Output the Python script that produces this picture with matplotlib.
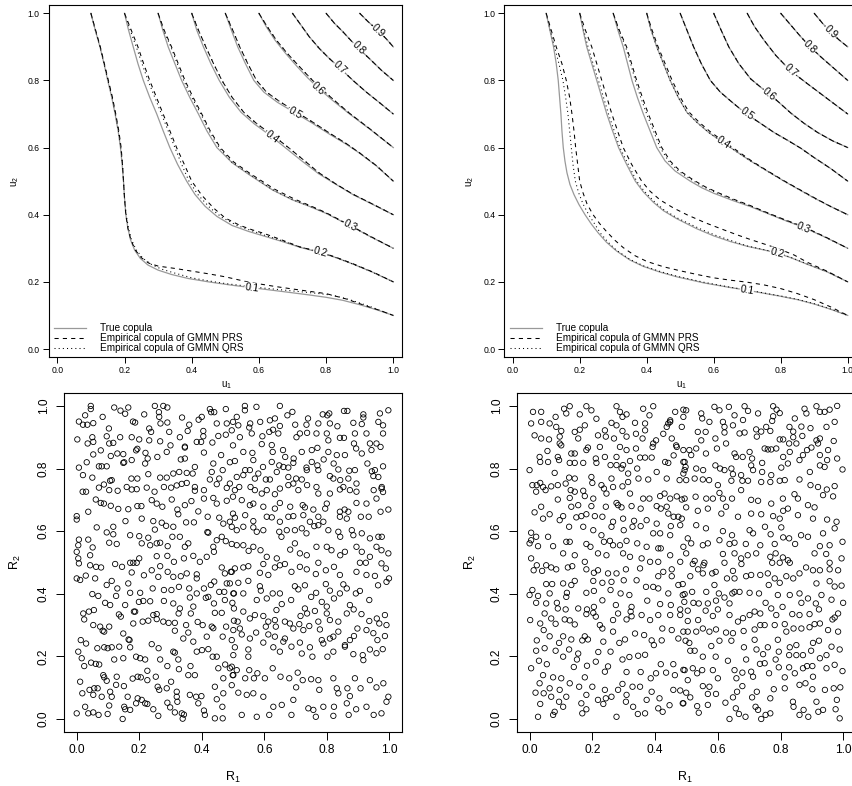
import numpy as np
import matplotlib
matplotlib.use('Agg')
import matplotlib.pyplot as plt

plt.rcParams['font.family'] = ['Liberation Sans', 'DejaVu Sans']
plt.rcParams['mathtext.fontset'] = 'custom'
plt.rcParams['mathtext.rm'] = 'Liberation Sans'
plt.rcParams['mathtext.it'] = 'Liberation Sans'

levels = [0.1, 0.2, 0.3, 0.4, 0.5, 0.6, 0.7, 0.8, 0.9]
legend_labels = ['True copula', 'Empirical copula of GMMN PRS', 'Empirical copula of GMMN QRS']

# contour lines, one list of (u1, u2) per level
left_true = [
    [(0.100,1.0),(0.113,0.95),(0.127,0.9),(0.139,0.85),(0.15,0.8),(0.162,0.75),(0.172,0.7),(0.181,0.65),(0.188,0.6),
     (0.193,0.55),(0.197,0.5),(0.2,0.45),(0.204,0.4),(0.21,0.36),(0.218,0.325),(0.23,0.295),(0.247,0.27),(0.27,0.25),
     (0.3,0.235),(0.34,0.222),(0.39,0.21),(0.45,0.2),(0.52,0.19),(0.6,0.18),(0.68,0.17),(0.75,0.161),(0.8,0.154),
     (0.85,0.145),(0.9,0.132),(0.95,0.117),(1.0,0.1)],
    [(0.2,1.0),(0.212,0.95),(0.226,0.9),(0.24,0.85),(0.256,0.8),(0.275,0.75),(0.296,0.7),(0.315,0.65),(0.335,0.6),
     (0.358,0.55),(0.385,0.5),(0.41,0.46),(0.44,0.425),(0.475,0.395),(0.52,0.368),(0.57,0.35),(0.62,0.335),(0.67,0.32),
     (0.722,0.303),(0.78,0.288),(0.83,0.272),(0.88,0.253),(0.94,0.228),(1.0,0.2)],
    [(0.3,1.0),(0.314,0.95),(0.33,0.9),(0.35,0.85),(0.37,0.8),(0.394,0.75),(0.42,0.7),(0.445,0.65),(0.475,0.6),
     (0.52,0.555),(0.57,0.52),(0.64,0.474),(0.70,0.444),(0.75,0.425),(0.80,0.404),(0.87,0.368),(0.935,0.333),(1.0,0.3)],
    [(0.4,1.0),(0.415,0.95),(0.435,0.9),(0.457,0.85),(0.482,0.8),(0.512,0.75),(0.547,0.705),(0.587,0.67),(0.635,0.635),
     (0.682,0.597),(0.728,0.56),(0.778,0.522),(0.83,0.49),(0.88,0.46),(0.94,0.43),(1.0,0.4)],
    [(0.5,1.0),(0.518,0.95),(0.537,0.9),(0.56,0.85),(0.585,0.8),(0.615,0.765),(0.655,0.735),(0.705,0.705),(0.76,0.672),
     (0.81,0.64),(0.86,0.61),(0.9,0.583),(0.95,0.545),(1.0,0.5)],
    [(0.6,1.0),(0.622,0.96),(0.648,0.92),(0.68,0.88),(0.715,0.84),(0.745,0.808),(0.777,0.777),(0.82,0.74),(0.87,0.7),
     (0.93,0.655),(1.0,0.6)],
    [(0.7,1.0),(0.725,0.965),(0.75,0.93),(0.78,0.895),(0.81,0.865),(0.841,0.837),(0.88,0.8),(0.92,0.765),(0.96,0.733),
     (1.0,0.7)],
    [(0.8,1.0),(0.825,0.97),(0.85,0.945),(0.873,0.92),(0.896,0.896),(0.93,0.864),(0.965,0.83),(1.0,0.8)],
    [(0.9,1.0),(0.925,0.975),(0.955,0.948),(0.978,0.925),(1.0,0.9)],
]
left_prs = [
    [(0.1,1.0),(0.114,0.95),(0.128,0.9),(0.14,0.85),(0.152,0.8),(0.164,0.75),(0.174,0.7),(0.183,0.65),(0.19,0.6),
     (0.194,0.55),(0.197,0.5),(0.2,0.45),(0.204,0.4),(0.21,0.36),(0.219,0.325),(0.232,0.295),(0.25,0.272),(0.272,0.256),
     (0.3,0.247),(0.35,0.24),(0.40,0.232),(0.45,0.224),(0.50,0.215),(0.57,0.199),(0.65,0.186),(0.72,0.176),(0.80,0.165),
     (0.86,0.149),(0.92,0.128),(0.96,0.115),(1.0,0.1)],
    [(0.2,1.0),(0.22,0.95),(0.24,0.9),(0.257,0.85),(0.275,0.8),(0.295,0.75),(0.315,0.7),(0.335,0.65),(0.355,0.6),
     (0.378,0.55),(0.40,0.5),(0.43,0.458),(0.465,0.42),(0.50,0.39),(0.544,0.368),(0.58,0.355),(0.613,0.345),(0.66,0.328),
     (0.722,0.304),(0.78,0.29),(0.83,0.273),(0.88,0.254),(0.94,0.229),(1.0,0.2)],
    [(0.3,1.0),(0.318,0.95),(0.34,0.9),(0.36,0.85),(0.38,0.8),(0.404,0.75),(0.43,0.7),(0.455,0.65),(0.485,0.6),
     (0.525,0.557),(0.575,0.522),(0.645,0.477),(0.705,0.447),(0.75,0.428),(0.80,0.406),(0.87,0.369),(0.935,0.334),(1.0,0.3)],
    [(0.4,1.0),(0.42,0.95),(0.442,0.9),(0.465,0.85),(0.49,0.8),(0.52,0.75),(0.555,0.705),(0.595,0.67),(0.641,0.637),
     (0.688,0.6),(0.733,0.563),(0.78,0.524),(0.83,0.491),(0.88,0.461),(0.94,0.431),(1.0,0.4)],
    [(0.5,1.0),(0.522,0.95),(0.543,0.9),(0.567,0.85),(0.593,0.8),(0.623,0.765),(0.662,0.737),(0.71,0.707),(0.763,0.674),
     (0.812,0.642),(0.86,0.612),(0.9,0.584),(0.95,0.546),(1.0,0.5)],
    [(0.6,1.0),(0.625,0.96),(0.652,0.92),(0.685,0.88),(0.72,0.842),(0.75,0.81),(0.78,0.78),(0.823,0.742),(0.87,0.702),
     (0.93,0.656),(1.0,0.6)],
] + left_true[6:]
left_qrs = [
    [(0.1,1.0),(0.113,0.95),(0.127,0.9),(0.139,0.85),(0.151,0.8),(0.163,0.75),(0.173,0.7),(0.182,0.65),(0.189,0.6),
     (0.194,0.55),(0.197,0.5),(0.2,0.45),(0.205,0.4),(0.212,0.36),(0.221,0.325),(0.235,0.295),(0.255,0.27),(0.28,0.252),
     (0.31,0.238),(0.35,0.226),(0.40,0.212),(0.45,0.203),(0.50,0.195),(0.60,0.183),(0.70,0.173),(0.78,0.165),
     (0.82,0.16),(0.87,0.147),(0.93,0.127),(1.0,0.1)],
    [(0.2,1.0),(0.217,0.95),(0.235,0.9),(0.252,0.85),(0.27,0.8),(0.29,0.75),(0.31,0.7),(0.33,0.65),(0.35,0.6),
     (0.37,0.55),(0.392,0.5),(0.42,0.458),(0.455,0.42),(0.49,0.392),(0.535,0.368),(0.58,0.352),(0.62,0.338),(0.67,0.322),
     (0.722,0.304),(0.78,0.289),(0.83,0.272),(0.88,0.253),(0.94,0.228),(1.0,0.2)],
    [(0.3,1.0),(0.316,0.95),(0.338,0.9),(0.357,0.85),(0.376,0.8),(0.4,0.75),(0.427,0.7),(0.452,0.65),(0.482,0.6),
     (0.52,0.556),(0.572,0.521),(0.64,0.475),(0.70,0.445),(0.75,0.426),(0.80,0.405),(0.87,0.368),(0.935,0.333),(1.0,0.3)],
] + left_prs[3:6] + left_true[6:]

right_true = [
    [(0.1,1.0),(0.111,0.95),(0.122,0.9),(0.13,0.85),(0.136,0.8),(0.14,0.75),(0.144,0.7),(0.147,0.65),(0.151,0.6),
     (0.156,0.56),(0.162,0.525),(0.171,0.49),(0.183,0.46),(0.198,0.43),(0.216,0.4),(0.235,0.372),(0.256,0.345),
     (0.28,0.318),(0.31,0.292),(0.35,0.265),(0.39,0.246),(0.44,0.229),(0.49,0.215),(0.57,0.197),(0.65,0.183),
     (0.70,0.175),(0.75,0.166),(0.8,0.157),(0.85,0.147),(0.9,0.134),(0.95,0.118),(1.0,0.1)],
    [(0.2,1.0),(0.21,0.95),(0.221,0.9),(0.236,0.85),(0.251,0.8),(0.266,0.75),(0.281,0.7),(0.298,0.65),(0.316,0.6),
     (0.34,0.55),(0.366,0.5),(0.39,0.468),(0.42,0.437),(0.45,0.412),(0.49,0.388),(0.55,0.358),(0.6,0.337),(0.65,0.32),
     (0.70,0.306),(0.75,0.295),(0.789,0.286),(0.83,0.272),(0.88,0.252),(0.94,0.229),(1.0,0.2)],
    [(0.3,1.0),(0.314,0.95),(0.33,0.9),(0.343,0.85),(0.356,0.8),(0.372,0.75),(0.39,0.7),(0.41,0.65),(0.43,0.6),
     (0.455,0.56),(0.485,0.53),(0.53,0.5),(0.565,0.48),(0.6,0.464),(0.655,0.443),(0.71,0.424),(0.76,0.404),(0.81,0.384),
     (0.869,0.362),(0.935,0.332),(1.0,0.3)],
    [(0.4,1.0),(0.413,0.95),(0.43,0.9),(0.45,0.85),(0.47,0.8),(0.494,0.75),(0.52,0.705),(0.55,0.675),(0.585,0.645),
     (0.625,0.617),(0.665,0.59),(0.71,0.56),(0.76,0.53),(0.81,0.5),(0.86,0.472),(0.905,0.447),(0.95,0.424),(1.0,0.4)],
    [(0.5,1.0),(0.52,0.95),(0.54,0.9),(0.563,0.85),(0.59,0.8),(0.62,0.765),(0.655,0.735),(0.695,0.702),(0.74,0.672),
     (0.78,0.645),(0.82,0.622),(0.86,0.598),(0.9,0.57),(0.95,0.537),(1.0,0.5)],
    [(0.6,1.0),(0.622,0.95),(0.645,0.9),(0.675,0.85),(0.71,0.805),(0.74,0.78),(0.766,0.76),(0.8,0.73),(0.83,0.703),
     (0.87,0.672),(0.91,0.645),(0.955,0.62),(1.0,0.6)],
    [(0.7,1.0),(0.722,0.96),(0.75,0.92),(0.785,0.875),(0.829,0.829),(0.88,0.79),(0.94,0.745),(1.0,0.7)],
    [(0.8,1.0),(0.83,0.965),(0.86,0.93),(0.888,0.9),(0.92,0.87),(0.96,0.835),(1.0,0.8)],
    [(0.9,1.0),(0.925,0.97),(0.948,0.945),(0.975,0.92),(1.0,0.9)],
]
right_prs = [
    [(0.1,1.0),(0.115,0.95),(0.13,0.9),(0.147,0.85),(0.16,0.8),(0.17,0.75),(0.177,0.7),(0.183,0.65),(0.188,0.6),
     (0.194,0.55),(0.20,0.5),(0.21,0.465),(0.222,0.432),(0.24,0.4),(0.26,0.373),(0.28,0.35),(0.305,0.324),(0.33,0.302),
     (0.365,0.278),(0.40,0.261),(0.45,0.245),(0.50,0.233),(0.55,0.222),(0.60,0.212),(0.65,0.205),(0.70,0.199),
     (0.75,0.191),(0.80,0.18),(0.85,0.165),(0.90,0.147),(0.95,0.125),(1.0,0.1)],
    [(0.2,1.0),(0.217,0.95),(0.236,0.9),(0.251,0.85),(0.266,0.8),(0.281,0.75),(0.296,0.7),(0.313,0.65),(0.33,0.6),
     (0.355,0.55),(0.385,0.5),(0.41,0.47),(0.44,0.444),(0.48,0.42),(0.52,0.4),(0.575,0.376),(0.63,0.355),(0.67,0.34),
     (0.71,0.326),(0.75,0.313),(0.79,0.3),(0.84,0.28),(0.88,0.258),(0.94,0.231),(1.0,0.2)],
    [(0.3,1.0),(0.318,0.95),(0.34,0.9),(0.355,0.85),(0.37,0.8),(0.387,0.75),(0.405,0.7),(0.425,0.65),(0.445,0.6),
     (0.47,0.56),(0.5,0.53),(0.54,0.503),(0.575,0.483),(0.61,0.467),(0.66,0.446),(0.71,0.427),(0.76,0.406),(0.81,0.386),
     (0.869,0.364),(0.935,0.333),(1.0,0.3)],
    [(0.4,1.0),(0.416,0.95),(0.434,0.9),(0.455,0.85),(0.476,0.8),(0.5,0.75),(0.526,0.706),(0.556,0.676),(0.59,0.647),
     (0.629,0.619),(0.668,0.592),(0.712,0.561),(0.76,0.531),(0.81,0.501),(0.86,0.473),(0.905,0.448),(0.95,0.424),(1.0,0.4)],
] + right_true[4:]
right_qrs = [
    [(0.1,1.0),(0.112,0.95),(0.125,0.9),(0.138,0.85),(0.15,0.8),(0.158,0.75),(0.165,0.7),(0.17,0.65),(0.175,0.6),
     (0.18,0.55),(0.187,0.5),(0.197,0.465),(0.21,0.432),(0.227,0.4),(0.245,0.372),(0.262,0.345),(0.285,0.318),
     (0.31,0.294),(0.35,0.267),(0.39,0.248),(0.44,0.231),(0.49,0.217),(0.57,0.199),(0.65,0.184),(0.70,0.176),
     (0.75,0.167),(0.8,0.158),(0.85,0.148),(0.9,0.135),(0.95,0.119),(1.0,0.1)],
    [(0.2,1.0),(0.212,0.95),(0.225,0.9),(0.24,0.85),(0.256,0.8),(0.271,0.75),(0.286,0.7),(0.303,0.65),(0.32,0.6),
     (0.345,0.55),(0.37,0.5),(0.393,0.47),(0.422,0.44),(0.452,0.414),(0.492,0.39),(0.555,0.36),(0.605,0.339),
     (0.655,0.322),(0.70,0.307),(0.75,0.296),(0.789,0.287),(0.83,0.273),(0.88,0.253),(0.94,0.23),(1.0,0.2)],
    [(0.3,1.0),(0.317,0.95),(0.337,0.9),(0.352,0.85),(0.366,0.8),(0.382,0.75),(0.4,0.7),(0.42,0.65),(0.44,0.6),
     (0.465,0.56),(0.495,0.53),(0.537,0.502),(0.572,0.482),(0.607,0.466),(0.658,0.445),(0.71,0.426),(0.76,0.405),
     (0.81,0.385),(0.869,0.363),(0.935,0.332),(1.0,0.3)],
] + right_true[3:]

# u1 position of the level labels
left_label_u = [0.578, 0.782, 0.871, 0.638, 0.707, 0.777, 0.841, 0.896, 0.955]
right_label_u = [0.699, 0.789, 0.869, 0.629, 0.699, 0.766, 0.829, 0.888, 0.948]

# Rosenblatt transformed samples (R1, R2)
left_pts = [
    (0.045,1.0),(0.045,0.99),(0.12,0.995),(0.14,0.985),(0.165,0.995),(0.155,0.975),(0.25,1.0),(0.277,1.0),(0.29,0.995),
    (0.263,0.98),(0.426,0.99),(0.43,0.98),(0.44,0.98),(0.477,0.99),(0.027,0.97),(0.007,0.95),(0.02,0.94),(0.034,0.94),
    (0.053,0.945),(0.083,0.965),(0.18,0.95),(0.187,0.947),(0.216,0.973),(0.232,0.928),(0.264,0.965),(0.268,0.944),
    (0.29,0.947),(0.337,0.963),(0.36,0.94),(0.39,0.956),(0.40,0.965),(0.448,0.944),(0.48,0.944),
    (0.002,0.893),(0.035,0.88),(0.05,0.90),(0.053,0.885),(0.096,0.903),(0.103,0.928),(0.139,0.90),(0.104,0.88),
    (0.117,0.882),(0.176,0.90),(0.20,0.893),(0.232,0.89),(0.238,0.917),(0.267,0.887),(0.296,0.917),(0.33,0.90),
    (0.355,0.92),(0.346,0.87),(0.384,0.885),(0.398,0.885),(0.405,0.92),(0.405,0.903),(0.434,0.883),(0.453,0.904),
    (0.477,0.908),(0.053,0.845),(0.077,0.858),(0.109,0.84),(0.13,0.848),(0.149,0.846),(0.152,0.82),(0.176,0.827),
    (0.19,0.858),(0.194,0.863),(0.22,0.85),(0.227,0.832),(0.258,0.837),(0.288,0.853),(0.30,0.874),(0.333,0.829),
    (0.346,0.832),(0.346,0.867),(0.407,0.851),(0.462,0.843),(0.49,0.82),(0.007,0.803),(0.02,0.779),(0.032,0.82),
    (0.05,0.771),(0.071,0.807),(0.08,0.807),(0.096,0.807),(0.112,0.763),(0.149,0.818),(0.175,0.768),(0.194,0.768),
    (0.219,0.816),(0.229,0.782),(0.267,0.771),(0.288,0.771),(0.309,0.784),(0.328,0.789),(0.352,0.786),(0.371,0.784),
    (0.378,0.805),(0.432,0.789),(0.426,0.765),(0.456,0.768),(0.467,0.795),(0.437,0.816),(0.019,0.726),(0.03,0.726),
    (0.071,0.739),(0.087,0.749),(0.107,0.761),(0.104,0.731),(0.131,0.729),(0.16,0.741),(0.176,0.733),(0.192,0.734),
    (0.224,0.739),(0.249,0.726),(0.279,0.741),(0.302,0.739),(0.32,0.746),(0.336,0.751),(0.352,0.754),(0.378,0.741),
    (0.378,0.729),(0.407,0.731),(0.448,0.75),(0.48,0.738),(0.061,0.701),(0.077,0.69),(0.087,0.688),(0.109,0.681),
    (0.133,0.671),(0.165,0.67),(0.194,0.68),(0.207,0.68),(0.24,0.699),(0.256,0.688),(0.274,0.678),(0.304,0.701),
    (0.322,0.669),(0.346,0.683),(0.367,0.696),(0.407,0.704),(0.437,0.706),(0.448,0.688),(0.48,0.697),(0.037,0.662),
    (0.0,0.648),(0.0,0.637),(0.064,0.612),(0.096,0.596),(0.117,0.614),(0.117,0.59),(0.156,0.632),(0.208,0.64),
    (0.245,0.632),(0.25,0.605),(0.272,0.627),(0.286,0.617),(0.309,0.614),(0.325,0.654),(0.35,0.628),(0.375,0.628),
    (0.389,0.663),(0.419,0.646),(0.418,0.597),(0.421,0.595),(0.456,0.643),(0.469,0.624),(0.007,0.573),(0.005,0.555),
    (0.037,0.573),(0.051,0.548),(0.104,0.563),(0.128,0.559),(0.171,0.587),(0.20,0.584),(0.208,0.561),(0.229,0.579),
    (0.235,0.555),(0.256,0.561),(0.267,0.563),(0.291,0.552),(0.306,0.582),(0.33,0.582),(0.346,0.55),(0.357,0.561),
    (0.437,0.55),(0.448,0.571),(0.464,0.582),(0.477,0.568),(0.0,0.534),(0.005,0.513),(0.043,0.523),(0.20,0.513),
    (0.256,0.52),(0.29,0.521),(0.343,0.513),(0.373,0.521),(0.416,0.518),(0.439,0.534),
    (0.538,1.0),(0.538,0.986),(0.575,0.997),(0.65,1.0),(0.674,0.97),(0.69,0.981),(0.787,0.973),(0.802,0.97),(0.808,0.976),
    (0.855,0.984),(0.866,0.984),(0.917,0.973),(0.917,0.963),(0.97,0.976),(0.997,0.986),(0.512,0.965),(0.5,0.949),
    (0.517,0.938),(0.555,0.944),(0.587,0.949),(0.618,0.954),(0.634,0.96),(0.65,0.936),(0.628,0.924),(0.699,0.94),
    (0.74,0.96),(0.735,0.94),(0.773,0.944),(0.81,0.944),(0.834,0.935),(0.885,0.946),(0.912,0.942),(0.965,0.949),
    (0.98,0.938),(0.496,0.922),(0.522,0.90),(0.552,0.931),(0.56,0.912),(0.594,0.903),(0.616,0.917),(0.645,0.912),
    (0.703,0.90),(0.714,0.912),(0.737,0.914),(0.767,0.912),(0.80,0.912),(0.805,0.89),(0.842,0.898),(0.855,0.898),
    (0.89,0.912),(0.927,0.912),(0.98,0.912),(0.959,0.88),(0.5,0.874),(0.533,0.853),(0.562,0.85),(0.592,0.878),
    (0.624,0.875),(0.627,0.853),(0.66,0.859),(0.667,0.837),(0.694,0.832),(0.72,0.853),(0.752,0.859),(0.77,0.866),
    (0.805,0.853),(0.832,0.843),(0.858,0.843),(0.887,0.88),(0.894,0.864),(0.912,0.848),(0.938,0.88),(0.943,0.859),
    (0.972,0.869),(0.506,0.824),(0.565,0.827),(0.596,0.805),(0.624,0.821),(0.648,0.81),(0.661,0.805),(0.677,0.803),
    (0.693,0.818),(0.735,0.803),(0.752,0.821),(0.77,0.81),(0.79,0.829),(0.822,0.816),(0.837,0.797),(0.872,0.793),
    (0.89,0.795),(0.93,0.816),(0.944,0.791),(0.954,0.795),(0.98,0.807),(0.512,0.773),(0.539,0.795),(0.554,0.795),
    (0.533,0.779),(0.57,0.768),(0.581,0.784),(0.605,0.765),(0.618,0.765),(0.64,0.789),(0.677,0.773),(0.702,0.768),
    (0.72,0.765),(0.736,0.795),(0.773,0.795),(0.81,0.776),(0.821,0.768),(0.843,0.763),(0.869,0.768),(0.895,0.752),
    (0.949,0.776),(0.965,0.773),(0.975,0.736),(0.49,0.752),(0.506,0.731),(0.52,0.741),(0.556,0.741),(0.57,0.731),
    (0.592,0.72),(0.608,0.731),(0.634,0.718),(0.65,0.736),(0.677,0.747),(0.693,0.752),(0.709,0.731),(0.737,0.747),
    (0.767,0.741),(0.773,0.72),(0.81,0.72),(0.842,0.733),(0.853,0.741),(0.874,0.731),(0.895,0.726),(0.95,0.731),
    (0.976,0.741),(0.98,0.725),(0.5,0.71),(0.528,0.699),(0.554,0.683),(0.565,0.688),(0.597,0.678),(0.634,0.672),
    (0.65,0.69),(0.683,0.678),(0.723,0.683),(0.73,0.676),(0.757,0.669),(0.80,0.688),(0.795,0.672),(0.842,0.662),
    (0.857,0.669),(0.869,0.662),(0.895,0.69),(0.927,0.688),(0.959,0.704),(0.997,0.669),(0.5,0.656),(0.506,0.643),
    (0.49,0.63),(0.539,0.651),(0.565,0.632),(0.608,0.646),(0.624,0.644),(0.65,0.63),(0.677,0.646),(0.693,0.648),
    (0.725,0.651),(0.746,0.63),(0.773,0.646),(0.789,0.63),(0.842,0.646),(0.864,0.64),(0.909,0.646),(0.934,0.646),
    (0.972,0.662),(0.496,0.614),(0.512,0.603),(0.533,0.614),(0.565,0.612),(0.576,0.598),(0.597,0.603),(0.648,0.598),
    (0.655,0.582),(0.672,0.603),(0.698,0.603),(0.72,0.609),(0.735,0.593),(0.76,0.616),(0.773,0.619),(0.805,0.603),
    (0.837,0.598),(0.843,0.582),(0.88,0.603),(0.885,0.587),(0.912,0.593),(0.938,0.577),(0.965,0.582),(0.976,0.582),
    (0.496,0.559),(0.512,0.555),(0.533,0.555),(0.55,0.537),(0.565,0.55),(0.588,0.539),(0.608,0.518),(0.64,0.513),
    (0.683,0.541),(0.698,0.561),(0.714,0.529),(0.736,0.523),(0.767,0.55),(0.80,0.55),(0.815,0.539),(0.843,0.523),
    (0.858,0.534),(0.895,0.55),(0.912,0.534),(0.938,0.518),(0.959,0.55),(0.975,0.539),(0.997,0.529),
    (0.007,0.497),(0.043,0.491),(0.062,0.486),(0.078,0.484),(0.123,0.495),(0.145,0.486),(0.171,0.499),(0.181,0.499),
    (0.192,0.499),(0.215,0.459),(0.176,0.468),(0.24,0.475),(0.267,0.488),(0.261,0.454),(0.291,0.47),(0.309,0.454),
    (0.311,0.502),(0.333,0.456),(0.352,0.465),(0.384,0.462),(0.384,0.449),(0.394,0.502),(0.429,0.428),(0.44,0.439),
    (0.464,0.484),(0.474,0.465),(0.493,0.47),(0.48,0.433),(0.0,0.449),(0.011,0.444),(0.029,0.458),(0.059,0.449),
    (0.096,0.428),(0.112,0.441),(0.13,0.417),(0.165,0.433),(0.203,0.403),(0.243,0.417),(0.279,0.412),(0.303,0.412),
    (0.327,0.422),(0.36,0.417),(0.407,0.417),(0.456,0.406),(0.472,0.406),(0.501,0.401),(0.05,0.399),(0.069,0.393),
    (0.091,0.371),(0.107,0.364),(0.126,0.393),(0.155,0.364),(0.171,0.403),(0.187,0.343),(0.199,0.374),(0.213,0.377),
    (0.235,0.376),(0.245,0.332),(0.256,0.319),(0.279,0.377),(0.309,0.369),(0.326,0.337),(0.33,0.353),(0.362,0.388),
    (0.373,0.359),(0.365,0.337),(0.384,0.401),(0.413,0.387),(0.421,0.39),(0.439,0.369),(0.442,0.339),(0.464,0.339),
    (0.474,0.38),(0.498,0.371),(0.021,0.337),(0.024,0.318),(0.039,0.343),(0.055,0.348),(0.053,0.30),(0.075,0.295),
    (0.083,0.282),(0.088,0.279),(0.104,0.295),(0.135,0.334),(0.141,0.327),(0.149,0.273),(0.183,0.343),(0.166,0.254),
    (0.181,0.305),(0.211,0.311),(0.229,0.314),(0.256,0.335),(0.277,0.311),(0.294,0.307),(0.314,0.307),(0.314,0.282),
    (0.341,0.257),(0.35,0.30),(0.357,0.276),(0.373,0.247),(0.387,0.31),(0.403,0.30),(0.416,0.263),(0.432,0.295),
    (0.437,0.29),(0.467,0.263),(0.478,0.295),(0.496,0.252),(0.503,0.314),(0.013,0.252),(0.03,0.241),(0.005,0.215),
    (0.016,0.194),(0.024,0.169),(0.046,0.18),(0.061,0.176),(0.072,0.174),(0.066,0.226),(0.088,0.229),(0.099,0.226),
    (0.112,0.229),(0.12,0.19),(0.136,0.231),(0.149,0.194),(0.171,0.229),(0.169,0.252),(0.19,0.199),(0.203,0.194),
    (0.219,0.19),(0.226,0.154),(0.24,0.239),(0.262,0.226),(0.267,0.19),(0.29,0.169),(0.309,0.215),(0.314,0.212),
    (0.325,0.19),(0.327,0.159),(0.357,0.14),(0.364,0.169),(0.378,0.14),(0.384,0.215),(0.401,0.22),(0.421,0.223),
    (0.435,0.199),(0.448,0.199),(0.453,0.162),(0.469,0.13),(0.475,0.174),(0.49,0.162),(0.499,0.14),(0.085,0.14),
    (0.088,0.133),(0.096,0.122),(0.126,0.109),(0.128,0.135),(0.151,0.105),(0.163,0.071),(0.179,0.129),(0.195,0.135),
    (0.205,0.133),(0.226,0.124),(0.253,0.135),(0.259,0.103),(0.264,0.093),(0.288,0.098),(0.302,0.119),(0.32,0.087),
    (0.32,0.071),(0.322,0.055),(0.362,0.077),(0.382,0.071),(0.399,0.073),(0.407,0.027),(0.41,0.013),(0.442,0.103),
    (0.448,0.063),(0.466,0.039),(0.469,0.082),(0.496,0.108),(0.011,0.119),(0.018,0.082),(0.041,0.093),(0.053,0.077),
    (0.056,0.098),(0.067,0.098),(0.08,0.071),(0.107,0.087),(0.112,0.071),(0.104,0.043),(0.152,0.039),(0.171,0.029),
    (0.155,0.031),(0.195,0.066),(0.208,0.061),(0.219,0.05),(0.226,0.048),(0.245,0.031),(0.261,0.01),(0.29,0.052),
    (0.299,0.037),(0.314,0.021),(0.336,0.018),(0.339,0.001),(0.343,0.014),(0.389,0.05),(0.442,0.002),(0.467,0.002),
    (0.0,0.018),(0.027,0.039),(0.037,0.018),(0.053,0.021),(0.07,0.013),(0.099,0.016),(0.147,0.0),(0.19,0.05),
    (0.496,0.47),(0.506,0.481),(0.533,0.484),(0.549,0.488),(0.586,0.467),(0.597,0.495),(0.613,0.46),(0.634,0.484),
    (0.65,0.491),(0.666,0.495),(0.687,0.47),(0.714,0.486),(0.736,0.478),(0.765,0.463),(0.773,0.499),(0.797,0.475),
    (0.823,0.486),(0.842,0.46),(0.895,0.47),(0.906,0.499),(0.925,0.499),(0.927,0.46),(0.954,0.457),(0.975,0.497),
    (0.989,0.481),(0.999,0.449),(0.49,0.433),(0.503,0.401),(0.517,0.435),(0.533,0.401),(0.549,0.441),(0.576,0.38),
    (0.586,0.424),(0.589,0.41),(0.608,0.385),(0.627,0.401),(0.65,0.401),(0.656,0.367),(0.686,0.38),(0.698,0.424),
    (0.709,0.414),(0.73,0.427),(0.75,0.39),(0.766,0.403),(0.784,0.374),(0.797,0.431),(0.81,0.41),(0.823,0.385),
    (0.842,0.401),(0.853,0.43),(0.864,0.417),(0.874,0.364),(0.893,0.401),(0.906,0.409),(0.936,0.38),(0.964,0.427),
    (0.991,0.438),(0.503,0.353),(0.533,0.343),(0.515,0.311),(0.554,0.321),(0.57,0.332),(0.597,0.329),(0.613,0.311),
    (0.639,0.348),(0.634,0.316),(0.666,0.311),(0.682,0.305),(0.712,0.303),(0.716,0.329),(0.73,0.353),(0.737,0.337),
    (0.762,0.345),(0.8,0.337),(0.8,0.359),(0.81,0.316),(0.837,0.311),(0.864,0.337),(0.886,0.35),(0.898,0.289),
    (0.911,0.335),(0.936,0.313),(0.96,0.321),(0.968,0.305),(0.986,0.332),(0.991,0.30),(0.501,0.284),(0.522,0.289),
    (0.528,0.27),(0.554,0.257),(0.574,0.276),(0.605,0.295),(0.613,0.27),(0.634,0.263),(0.637,0.295),(0.661,0.247),
    (0.666,0.257),(0.693,0.289),(0.725,0.284),(0.744,0.297),(0.773,0.311),(0.778,0.286),(0.784,0.252),(0.81,0.257),
    (0.821,0.263),(0.837,0.279),(0.858,0.231),(0.874,0.252),(0.887,0.265),(0.927,0.284),(0.949,0.274),(0.986,0.265),
    (0.962,0.252),(0.506,0.229),(0.501,0.204),(0.549,0.199),(0.549,0.222),(0.597,0.244),(0.629,0.229),(0.65,0.215),
    (0.687,0.231),(0.714,0.244),(0.72,0.209),(0.746,0.229),(0.754,0.199),(0.789,0.241),(0.802,0.199),(0.821,0.215),
    (0.858,0.236),(0.885,0.207),(0.915,0.204),(0.917,0.188),(0.938,0.222),(0.959,0.21),(0.979,0.223),(0.496,0.167),
    (0.512,0.156),(0.501,0.14),(0.539,0.13),(0.552,0.156),(0.567,0.13),(0.578,0.146),(0.602,0.13),(0.627,0.162),
    (0.652,0.135),(0.68,0.13),(0.707,0.148),(0.702,0.101),(0.723,0.124),(0.75,0.127),(0.773,0.124),(0.776,0.093),
    (0.821,0.13),(0.832,0.098),(0.837,0.082),(0.866,0.098),(0.874,0.073),(0.89,0.13),(0.908,0.098),(0.938,0.124),
    (0.959,0.101),(0.981,0.114),(0.997,0.071),(0.517,0.084),(0.544,0.077),(0.565,0.082),(0.597,0.071),(0.629,0.039),
    (0.656,0.045),(0.693,0.061),(0.741,0.034),(0.757,0.029),(0.765,0.007),(0.789,0.039),(0.823,0.039),(0.821,0.01),
    (0.864,0.05),(0.87,0.013),(0.894,0.031),(0.927,0.039),(0.95,0.013),(0.975,0.018),(0.991,0.055),(0.528,0.013),
    (0.576,0.007),(0.616,0.013),(0.687,0.013),
]
right_pts = [
    (0.011,0.981),(0.037,0.981),(0.005,0.944),(0.037,0.949),(0.064,0.944),(0.083,0.965),(0.11,0.991),(0.117,0.976),
    (0.128,0.999),(0.16,0.973),(0.181,0.999),(0.197,0.986),(0.213,0.959),(0.277,0.999),(0.288,0.981),(0.296,0.965),
    (0.309,0.973),(0.362,0.991),(0.394,0.999),(0.382,0.97),(0.448,0.949),(0.464,0.981),(0.49,0.988),(0.49,0.965),
    (0.085,0.933),(0.101,0.92),(0.016,0.906),(0.037,0.896),(0.062,0.893),(0.096,0.902),(0.096,0.88),(0.144,0.917),
    (0.16,0.924),(0.155,0.896),(0.176,0.938),(0.218,0.906),(0.24,0.922),(0.243,0.902),(0.269,0.896),(0.261,0.946),
    (0.277,0.938),(0.296,0.92),(0.309,0.902),(0.336,0.946),(0.339,0.911),(0.36,0.896),(0.368,0.944),(0.368,0.922),
    (0.394,0.88),(0.403,0.89),(0.426,0.911),(0.437,0.933),(0.442,0.944),(0.448,0.954),(0.453,0.896),(0.467,0.874),
    (0.485,0.933),(0.49,0.859),(0.101,0.874),(0.057,0.856),(0.032,0.837),(0.034,0.821),(0.059,0.821),(0.09,0.837),
    (0.094,0.827),(0.133,0.848),(0.144,0.848),(0.128,0.818),(0.144,0.818),(0.171,0.818),(0.181,0.859),(0.186,0.867),
    (0.211,0.832),(0.213,0.818),(0.224,0.869),(0.24,0.837),(0.258,0.811),(0.277,0.811),(0.277,0.837),(0.288,0.869),
    (0.298,0.811),(0.309,0.859),(0.32,0.824),(0.339,0.864),(0.352,0.835),(0.368,0.835),(0.389,0.835),(0.392,0.869),
    (0.432,0.821),(0.442,0.818),(0.459,0.842),(0.469,0.869),(0.49,0.821),(0.0,0.795),(0.08,0.786),(0.126,0.771),
    (0.144,0.768),(0.197,0.773),(0.2,0.754),(0.229,0.747),(0.261,0.768),(0.266,0.741),(0.293,0.80),(0.314,0.784),
    (0.314,0.757),(0.343,0.80),(0.347,0.768),(0.378,0.765),(0.405,0.789),(0.437,0.768),(0.478,0.763),(0.49,0.784),
    (0.009,0.747),(0.023,0.747),(0.034,0.754),(0.043,0.741),(0.021,0.726),(0.051,0.731),(0.069,0.743),(0.09,0.747),
    (0.115,0.752),(0.131,0.731),(0.144,0.726),(0.171,0.729),(0.176,0.712),(0.203,0.704),(0.237,0.736),(0.245,0.72),
    (0.296,0.743),(0.32,0.72),(0.362,0.704),(0.382,0.704),(0.416,0.712),(0.43,0.72),(0.448,0.704),(0.469,0.711),
    (0.485,0.701),(0.09,0.701),(0.128,0.706),(0.133,0.678),(0.155,0.683),(0.197,0.68),(0.243,0.678),(0.277,0.69),
    (0.282,0.683),(0.293,0.676),(0.325,0.68),(0.354,0.672),(0.405,0.68),(0.418,0.672),(0.437,0.678),(0.037,0.678),
    (0.016,0.66),(0.043,0.64),(0.064,0.654),(0.096,0.635),(0.107,0.648),(0.126,0.614),(0.149,0.644),(0.165,0.648),
    (0.181,0.654),(0.208,0.648),(0.232,0.646),(0.261,0.614),(0.266,0.63),(0.298,0.64),(0.333,0.633),(0.328,0.614),
    (0.354,0.616),(0.373,0.635),(0.405,0.624),(0.442,0.656),(0.459,0.646),(0.474,0.646),(0.485,0.64),(0.45,0.616),
    (0.48,0.619),(0.171,0.614),(0.005,0.595),(0.005,0.571),(0.021,0.582),(0.0,0.561),(0.027,0.552),(0.059,0.582),
    (0.075,0.552),(0.117,0.566),(0.128,0.566),(0.181,0.559),(0.194,0.55),(0.203,0.603),(0.229,0.587),(0.237,0.566),
    (0.256,0.569),(0.266,0.555),(0.288,0.555),(0.3,0.603),(0.309,0.569),(0.343,0.561),(0.373,0.55),(0.394,0.593),
    (0.416,0.593),(0.41,0.545),(0.418,0.545),(0.448,0.587),(0.49,0.55),(0.005,0.513),(0.107,0.529),(0.144,0.523),
    (0.218,0.529),(0.245,0.523),(0.298,0.529),(0.32,0.518),(0.357,0.513),(0.448,0.523),
    (0.589,0.997),(0.605,0.986),(0.635,0.997),(0.653,0.97),(0.685,0.999),(0.696,0.984),(0.68,0.955),(0.728,0.976),
    (0.776,0.999),(0.787,0.988),(0.797,0.977),(0.776,0.967),(0.773,0.952),(0.845,0.96),(0.876,0.991),(0.882,0.976),
    (0.914,0.999),(0.925,0.981),(0.94,0.981),(0.956,0.988),(0.98,1.0),(0.972,0.949),(0.499,0.986),(0.547,0.976),
    (0.55,0.96),(0.573,0.949),(0.616,0.949),(0.621,0.933),(0.648,0.938),(0.722,0.925),(0.738,0.918),(0.754,0.933),
    (0.767,0.92),(0.828,0.933),(0.84,0.918),(0.866,0.934),(0.895,0.929),(0.946,0.933),(0.536,0.917),(0.561,0.917),
    (0.547,0.89),(0.592,0.896),(0.621,0.915),(0.669,0.912),(0.685,0.915),(0.724,0.902),(0.797,0.893),(0.808,0.893),
    (0.84,0.90),(0.869,0.904),(0.914,0.89),(0.925,0.896),(0.969,0.888),(0.509,0.859),(0.515,0.843),(0.531,0.864),
    (0.562,0.848),(0.597,0.864),(0.626,0.88),(0.653,0.848),(0.658,0.837),(0.679,0.837),(0.701,0.853),(0.709,0.832),
    (0.749,0.864),(0.759,0.861),(0.77,0.861),(0.786,0.864),(0.808,0.837),(0.829,0.853),(0.827,0.88),(0.85,0.88),
    (0.871,0.843),(0.884,0.859),(0.898,0.867),(0.919,0.88),(0.925,0.843),(0.951,0.859),(0.98,0.832),(0.948,0.827),
    (0.494,0.821),(0.497,0.805),(0.494,0.795),(0.531,0.80),(0.553,0.795),(0.592,0.81),(0.607,0.80),(0.621,0.795),
    (0.643,0.80),(0.648,0.782),(0.674,0.779),(0.706,0.81),(0.712,0.795),(0.741,0.818),(0.741,0.789),(0.77,0.779),
    (0.802,0.803),(0.823,0.816),(0.86,0.827),(0.893,0.789),(0.925,0.81),(0.94,0.805),(0.997,0.797),(0.499,0.763),
    (0.526,0.768),(0.552,0.765),(0.572,0.763),(0.6,0.747),(0.643,0.761),(0.678,0.761),(0.696,0.761),(0.738,0.757),
    (0.767,0.757),(0.797,0.761),(0.813,0.763),(0.86,0.765),(0.895,0.747),(0.919,0.741),(0.947,0.733),(0.972,0.744),
    (0.494,0.704),(0.529,0.71),(0.563,0.704),(0.584,0.704),(0.605,0.722),(0.616,0.704),(0.645,0.704),(0.674,0.731),
    (0.706,0.70),(0.728,0.697),(0.77,0.688),(0.807,0.704),(0.844,0.718),(0.855,0.704),(0.887,0.683),(0.908,0.676),
    (0.935,0.715),(0.967,0.711),(0.499,0.676),(0.536,0.665),(0.568,0.672),(0.611,0.656),(0.626,0.678),(0.664,0.646),
    (0.706,0.656),(0.738,0.654),(0.776,0.648),(0.797,0.64),(0.808,0.665),(0.823,0.672),(0.855,0.651),(0.903,0.64),
    (0.948,0.637),(0.978,0.63),(0.531,0.619),(0.562,0.609),(0.605,0.571),(0.616,0.60),(0.645,0.587),(0.653,0.563),
    (0.701,0.603),(0.712,0.593),(0.75,0.614),(0.768,0.59),(0.802,0.612),(0.808,0.58),(0.827,0.577),(0.865,0.587),
    (0.887,0.582),(0.935,0.593),(0.972,0.609),(0.504,0.577),(0.515,0.561),(0.552,0.555),(0.568,0.561),(0.637,0.559),
    (0.689,0.559),(0.735,0.555),(0.781,0.559),(0.846,0.559),(0.925,0.552),(0.956,0.555),(0.997,0.566),(0.499,0.529),
    (0.526,0.505),(0.557,0.499),(0.616,0.527),(0.653,0.529),(0.674,0.513),(0.695,0.523),(0.722,0.529),(0.767,0.518),
    (0.784,0.529),(0.807,0.516),(0.823,0.507),(0.908,0.529),(0.945,0.527),(0.994,0.513),
    (0.023,0.491),(0.053,0.491),(0.069,0.484),(0.085,0.478),(0.122,0.484),(0.136,0.488),(0.013,0.475),(0.04,0.473),
    (0.176,0.502),(0.181,0.478),(0.205,0.467),(0.218,0.475),(0.25,0.465),(0.277,0.465),(0.307,0.478),(0.352,0.481),
    (0.384,0.502),(0.41,0.502),(0.426,0.47),(0.453,0.478),(0.48,0.502),(0.453,0.456),(0.41,0.456),(0.341,0.443),
    (0.3,0.443),(0.261,0.438),(0.232,0.435),(0.203,0.441),(0.144,0.441),(0.133,0.428),(0.107,0.433),(0.072,0.431),
    (0.053,0.431),(0.009,0.412),(0.0,0.396),(0.027,0.393),(0.064,0.401),(0.119,0.403),(0.117,0.39),(0.181,0.403),
    (0.205,0.409),(0.258,0.412),(0.29,0.401),(0.318,0.396),(0.371,0.422),(0.394,0.422),(0.41,0.417),(0.442,0.401),
    (0.474,0.428),(0.488,0.396),(0.493,0.374),(0.021,0.371),(0.053,0.369),(0.087,0.371),(0.09,0.353),(0.115,0.35),
    (0.155,0.353),(0.183,0.35),(0.205,0.358),(0.232,0.379),(0.275,0.364),(0.325,0.358),(0.322,0.343),(0.375,0.378),
    (0.416,0.367),(0.45,0.364),(0.48,0.35),(0.048,0.337),(0.069,0.321),(0.083,0.304),(0.112,0.318),(0.128,0.315),
    (0.144,0.302),(0.181,0.335),(0.203,0.339),(0.211,0.327),(0.224,0.30),(0.266,0.316),(0.282,0.337),(0.309,0.318),
    (0.325,0.328),(0.357,0.332),(0.384,0.316),(0.41,0.332),(0.448,0.332),(0.48,0.332),(0.002,0.316),(0.034,0.305),
    (0.045,0.284),(0.064,0.264),(0.023,0.251),(0.094,0.243),(0.107,0.264),(0.133,0.254),(0.168,0.251),(0.176,0.264),
    (0.186,0.254),(0.232,0.289),(0.266,0.279),(0.235,0.247),(0.286,0.243),(0.304,0.254),(0.336,0.273),(0.365,0.268),
    (0.389,0.251),(0.396,0.236),(0.421,0.251),(0.423,0.289),(0.453,0.284),(0.474,0.257),(0.49,0.279),(0.021,0.218),
    (0.048,0.226),(0.083,0.218),(0.126,0.222),(0.155,0.209),(0.151,0.19),(0.107,0.199),(0.03,0.186),(0.055,0.175),
    (0.043,0.14),(0.005,0.162),(0.075,0.133),(0.101,0.13),(0.141,0.166),(0.176,0.133),(0.183,0.17),(0.211,0.183),
    (0.219,0.214),(0.25,0.168),(0.24,0.151),(0.258,0.215),(0.296,0.19),(0.318,0.198),(0.346,0.202),(0.368,0.205),
    (0.309,0.15),(0.354,0.15),(0.386,0.13),(0.403,0.146),(0.418,0.175),(0.435,0.148),(0.458,0.175),(0.463,0.14),
    (0.49,0.157),(0.032,0.114),(0.019,0.084),(0.045,0.082),(0.064,0.098),(0.069,0.071),(0.096,0.093),(0.117,0.071),
    (0.094,0.055),(0.107,0.039),(0.08,0.023),(0.034,0.048),(0.027,0.007),(0.075,0.013),(0.128,0.114),(0.158,0.103),
    (0.181,0.077),(0.165,0.05),(0.168,0.018),(0.181,0.031),(0.2,0.103),(0.218,0.061),(0.235,0.048),(0.243,0.066),
    (0.261,0.071),(0.24,0.093),(0.282,0.093),(0.296,0.112),(0.309,0.077),(0.307,0.055),(0.328,0.103),(0.33,0.039),
    (0.352,0.103),(0.368,0.018),(0.345,0.016),(0.373,0.061),(0.389,0.087),(0.414,0.066),(0.41,0.034),(0.424,0.023),
    (0.446,0.044),(0.458,0.093),(0.48,0.091),(0.49,0.05),(0.277,0.007),
    (0.52,0.495),(0.537,0.478),(0.554,0.491),(0.552,0.465),(0.582,0.465),(0.593,0.47),(0.512,0.456),(0.488,0.431),
    (0.621,0.499),(0.648,0.473),(0.629,0.449),(0.653,0.449),(0.675,0.495),(0.69,0.456),(0.706,0.46),(0.735,0.46),
    (0.759,0.465),(0.762,0.428),(0.781,0.449),(0.773,0.499),(0.797,0.499),(0.797,0.435),(0.818,0.456),(0.829,0.499),
    (0.84,0.449),(0.86,0.465),(0.881,0.484),(0.903,0.475),(0.925,0.475),(0.914,0.433),(0.956,0.499),(0.956,0.478),
    (0.983,0.475),(0.956,0.44),(0.972,0.423),(0.994,0.426),(0.494,0.399),(0.518,0.406),(0.522,0.371),(0.539,0.369),
    (0.563,0.406),(0.568,0.369),(0.589,0.428),(0.594,0.378),(0.603,0.401),(0.621,0.388),(0.637,0.369),(0.646,0.401),
    (0.653,0.406),(0.669,0.406),(0.701,0.403),(0.731,0.401),(0.752,0.371),(0.791,0.396),(0.829,0.396),(0.86,0.401),
    (0.866,0.371),(0.887,0.385),(0.912,0.369),(0.93,0.396),(0.962,0.381),(0.999,0.371),(0.504,0.346),(0.504,0.313),
    (0.537,0.316),(0.561,0.346),(0.584,0.329),(0.6,0.35),(0.637,0.332),(0.664,0.311),(0.68,0.322),(0.701,0.332),
    (0.717,0.343),(0.735,0.337),(0.77,0.353),(0.786,0.332),(0.806,0.358),(0.837,0.335),(0.86,0.332),(0.892,0.335),
    (0.922,0.35),(0.965,0.318),(0.972,0.324),(0.983,0.337),(0.504,0.279),(0.531,0.279),(0.552,0.289),(0.573,0.279),
    (0.594,0.286),(0.626,0.276),(0.648,0.274),(0.682,0.281),(0.717,0.286),(0.735,0.30),(0.749,0.30),(0.781,0.30),
    (0.813,0.303),(0.818,0.279),(0.841,0.289),(0.866,0.289),(0.892,0.293),(0.908,0.303),(0.925,0.305),(0.951,0.284),
    (0.983,0.279),(0.497,0.25),(0.509,0.243),(0.512,0.218),(0.526,0.218),(0.552,0.199),(0.579,0.233),(0.605,0.25),
    (0.593,0.199),(0.643,0.25),(0.683,0.229),(0.717,0.253),(0.723,0.222),(0.744,0.207),(0.759,0.229),(0.791,0.253),
    (0.794,0.215),(0.784,0.19),(0.827,0.204),(0.829,0.229),(0.85,0.204),(0.85,0.236),(0.871,0.204),(0.897,0.218),
    (0.903,0.243),(0.922,0.25),(0.925,0.194),(0.946,0.204),(0.962,0.231),(0.988,0.222),(0.494,0.156),(0.52,0.162),
    (0.534,0.146),(0.55,0.156),(0.584,0.156),(0.6,0.13),(0.632,0.186),(0.653,0.156),(0.659,0.13),(0.678,0.148),
    (0.69,0.19),(0.706,0.151),(0.712,0.135),(0.734,0.176),(0.749,0.178),(0.763,0.146),(0.794,0.165),(0.813,0.133),
    (0.827,0.165),(0.845,0.146),(0.871,0.162),(0.884,0.169),(0.901,0.169),(0.903,0.135),(0.946,0.162),(0.997,0.153),
    (0.972,0.173),(0.504,0.124),(0.499,0.084),(0.512,0.069),(0.488,0.05),(0.552,0.105),(0.573,0.103),(0.568,0.08),
    (0.594,0.08),(0.624,0.052),(0.648,0.069),(0.661,0.087),(0.678,0.105),(0.709,0.069),(0.724,0.087),(0.728,0.029),
    (0.72,0.039),(0.767,0.066),(0.778,0.095),(0.813,0.098),(0.86,0.109),(0.879,0.114),(0.901,0.095),(0.941,0.093),
    (0.969,0.098),(0.99,0.101),(0.534,0.041),(0.539,0.02),(0.568,0.045),(0.637,0.0),(0.657,0.034),(0.667,0.016),
    (0.688,0.007),(0.738,0.0),(0.752,0.013),(0.767,0.018),(0.839,0.055),(0.841,0.039),(0.86,0.013),(0.873,0.029),
    (0.888,0.007),(0.914,0.055),(0.92,0.023),(0.935,0.029),(0.979,0.061),(0.975,0.031),(0.988,0.002),
]

W, H = 853, 786
fig = plt.figure(figsize=(W / 100, H / 100), dpi=100)


def add_ax(left, top, right, bottom):
    # axes box given in pixels of the output image
    return fig.add_axes([left / W, 1 - bottom / H, (right - left) / W, (bottom - top) / H])


ticks = [0.0, 0.2, 0.4, 0.6, 0.8, 1.0]
tick_labels = ['%.1f' % t for t in ticks]


def curve_label(ax, curve, u, text):
    xy = np.array(curve)
    v = np.interp(u, xy[:, 0], xy[:, 1])
    du = 0.02
    p0 = ax.transData.transform((u - du, np.interp(u - du, xy[:, 0], xy[:, 1])))
    p1 = ax.transData.transform((u + du, np.interp(u + du, xy[:, 0], xy[:, 1])))
    ang = np.degrees(np.arctan2(p1[1] - p0[1], p1[0] - p0[0]))
    ax.text(u, v, text, rotation=ang, rotation_mode='anchor', ha='center', va='center',
            fontsize=7.4, bbox=dict(fc='white', ec='none', pad=0.1), zorder=5)


def contour_panel(ax, true, prs, qrs, label_u):
    ax.set_xlim(-0.025, 1.025)
    ax.set_ylim(-0.025, 1.025)
    for c in true:
        xy = np.array(c)
        ax.plot(xy[:, 0], xy[:, 1], color='0.6', lw=0.9, solid_joinstyle='round')
    for c in prs:
        xy = np.array(c)
        ax.plot(xy[:, 0], xy[:, 1], color='black', lw=0.75, linestyle=(0, (4, 4)))
    for c in qrs:
        xy = np.array(c)
        ax.plot(xy[:, 0], xy[:, 1], color='black', lw=0.75, linestyle=(0, (1, 3)))
    for c, u, lev in zip(true, label_u, levels):
        curve_label(ax, c, u, '%.1f' % lev)
    ax.set_xticks(ticks)
    ax.set_xticklabels(tick_labels)
    ax.set_yticks(ticks)
    ax.set_yticklabels(tick_labels)
    ax.tick_params(labelsize=6.2, length=4.3, width=0.7, pad=2.2, colors='black')
    for s in ax.spines.values():
        s.set_linewidth(0.8)
    h1, = ax.plot([], [], color='0.6', lw=0.9)
    h2, = ax.plot([], [], color='black', lw=0.75, linestyle=(0, (4, 4)))
    h3, = ax.plot([], [], color='black', lw=0.75, linestyle=(0, (1, 3)))
    ax.legend([h1, h2, h3], legend_labels, loc='lower left', bbox_to_anchor=(0.015, 0.012),
              frameon=False, fontsize=7.2, handlelength=3.2, handletextpad=1.4,
              labelspacing=0.0, borderpad=0.0, borderaxespad=0.0)


def scatter_panel(ax, pts):
    xy = np.array(pts)
    ax.scatter(xy[:, 0], xy[:, 1], s=15, facecolors='none', edgecolors='black', linewidths=0.6)
    ax.set_xlim(-0.04, 1.04)
    ax.set_ylim(-0.04, 1.04)
    ax.set_xticks(ticks)
    ax.set_xticklabels(tick_labels)
    ax.set_yticks(ticks)
    ax.set_yticklabels(tick_labels, rotation=90, va='center')
    ax.tick_params(labelsize=8.6, length=5.8, width=0.7, colors='black')
    ax.tick_params(axis='x', pad=3.5)
    ax.tick_params(axis='y', pad=4.5)
    for s in ax.spines.values():
        s.set_linewidth(0.8)


ax1 = add_ax(48.9, 4.9, 401.7, 357.4)
contour_panel(ax1, left_true, left_prs, left_qrs, left_label_u)
ax2 = add_ax(504.3, 4.9, 856.1, 357.4)
contour_panel(ax2, right_true, right_prs, right_qrs, right_label_u)
ax3 = add_ax(64.2, 393.4, 401.8, 731.5)
scatter_panel(ax3, left_pts)
ax4 = add_ax(517.0, 393.4, 856.0, 731.5)
scatter_panel(ax4, right_pts)


def fig_text(x, y, s, size, rot=0):
    fig.text(x / W, 1 - y / H, s, fontsize=size, rotation=rot, ha='center', va='center')


fig_text(15, 182, r'$\mathrm{u}_2$', 7, 90)
fig_text(226.7, 385, r'$\mathrm{u}_1$', 7)
fig_text(470, 182, r'$\mathrm{u}_2$', 7, 90)
fig_text(681.7, 385, r'$\mathrm{u}_1$', 7)
fig_text(15, 562, r'$\mathrm{R}_2$', 9, 90)
fig_text(233, 777, r'$\mathrm{R}_1$', 9)
fig_text(470, 562, r'$\mathrm{R}_2$', 9, 90)
fig_text(685, 777, r'$\mathrm{R}_1$', 9)

fig.savefig('out.png', dpi=100)
